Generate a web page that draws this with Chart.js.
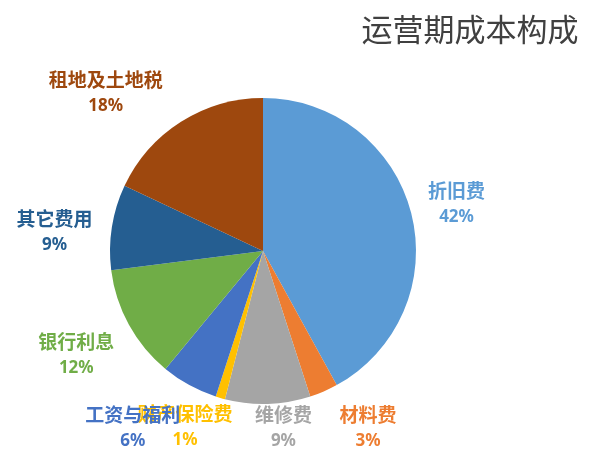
<!DOCTYPE html>
<html>
<head>
<meta charset="utf-8">
<script src="https://cdn.jsdelivr.net/npm/chart.js@4/dist/chart.umd.min.js"></script>
<style>
  html, body { margin: 0; padding: 0; background: #fff; }
  #wrap { width: 596px; height: 453px; }
</style>
</head>
<body>
<div id="wrap"><canvas id="pieChart" width="596" height="453"></canvas></div>
<script>
// data
var labels = ["折旧费", "材料费", "维修费", "财产保险费", "工资与福利", "银行利息", "其它费用", "租地及土地税"];
var values = [42, 3, 9, 1, 6, 12, 9, 18];
var colors = ["#5B9BD5", "#ED7D31", "#A5A5A5", "#FFC000", "#4472C4", "#70AD47", "#255E91", "#9E480E"];
var titleText = "运营期成本构成";

// nudges for the data labels (Excel best-fit placement), in px
var labelNudgeX = [-4, 24, 14, -21, -32, -8, -7, -48];
var labelNudgeY = [4, -10, -27, -20, -2, 6, 13, 14];
// insurance is drawn before wages so wages overlaps it like the original
var labelOrder = [0, 1, 2, 3, 4, 5, 6, 7];

const pieLabels = {
  id: "pieLabels",
  afterDatasetsDraw(chart) {
    var ctx = chart.ctx;
    var meta = chart.getDatasetMeta(0);
    var total = values.reduce(function (a, b) { return a + b; }, 0);
    ctx.save();
    ctx.textAlign = "center";
    ctx.textBaseline = "middle";
    labelOrder.forEach(function (i) {
      var arc = meta.data[i];
      var mid = (arc.startAngle + arc.endAngle) / 2;
      var r = arc.outerRadius * 1.333;
      var cx = arc.x + Math.cos(mid) * r + labelNudgeX[i];
      var cy = arc.y + Math.sin(mid) * r + labelNudgeY[i];
      ctx.fillStyle = colors[i];
      ctx.font = "bold 19px 'Noto Sans CJK SC'";
      ctx.fillText(labels[i], cx, cy - 13);
      ctx.font = "bold 17px 'Noto Sans'";
      ctx.fillText(Math.round(values[i] / total * 100) + "%", cx, cy + 13);
    });
    // title
    ctx.fillStyle = "#404040";
    ctx.font = "31px 'Noto Sans CJK SC'";
    ctx.fillText(titleText, 470, 29);
    ctx.restore();
  }
};

var ctxPie = document.getElementById("pieChart").getContext("2d");

var optionsPie = {
  responsive: false,
  animation: false,
  rotation: 0,
  layout: {
    padding: { left: 110, right: 180, top: 98, bottom: 49 }
  },
  plugins: {
    legend: { display: false },
    tooltip: { enabled: false },
    title: { display: false }
  }
};

var pieChart = new Chart(ctxPie, {
  type: "pie",
  data: {
    labels: labels,
    datasets: [{
      data: values,
      backgroundColor: colors,
      borderWidth: 0
    }]
  },
  options: optionsPie,
  plugins: [pieLabels]
});
</script>
</body>
</html>
